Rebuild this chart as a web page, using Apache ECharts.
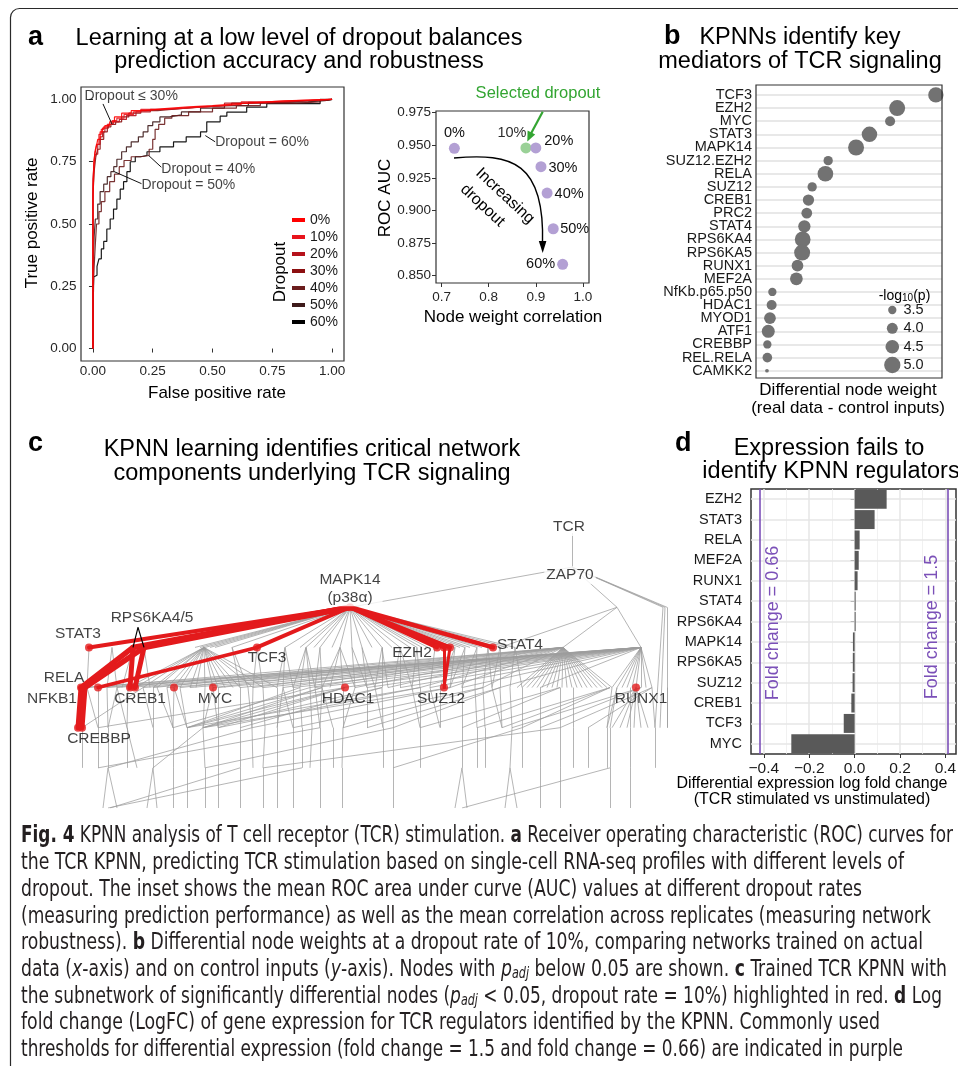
<!DOCTYPE html>
<html><head><meta charset="utf-8">
<script src="https://cdn.jsdelivr.net/npm/echarts@6.0.0/dist/echarts.min.js"></script>
<style>html,body{margin:0;padding:0;background:#fff}#c{width:958px;height:1066px}</style>
</head><body><div id="c"></div>
<script>
// ================= DATA =================
// Panel a: ROC curves (false positive rate, true positive rate)
const ROC_LEVELS = ['0%','10%','20%','30%','40%','50%','60%'];
const ROC_0  = [[0,0],[0,0.45],[0.003,0.6],[0.005,0.7],[0.008,0.76],[0.012,0.78],[0.02,0.8],[0.03,0.84],[0.04,0.87],[0.05,0.885],[0.07,0.895],[0.09,0.91],[0.12,0.93],[0.16,0.945],[0.22,0.955],[0.3,0.963],[0.4,0.97],[0.5,0.975],[0.6,0.982],[0.7,0.988],[0.8,0.994],[0.9,0.997],[1,1]];
const ROC_10 = [[0,0],[0,0.5],[0.004,0.66],[0.008,0.74],[0.015,0.79],[0.025,0.82],[0.035,0.86],[0.045,0.88],[0.06,0.89],[0.08,0.9],[0.1,0.915],[0.13,0.925],[0.17,0.94],[0.2,0.95],[0.28,0.96],[0.38,0.965],[0.5,0.972],[0.62,0.98],[0.72,0.99],[0.85,0.995],[1,1]];
const ROC_20 = [[0,0],[0,0.55],[0.005,0.68],[0.01,0.75],[0.02,0.78],[0.03,0.82],[0.04,0.85],[0.05,0.87],[0.065,0.885],[0.085,0.9],[0.11,0.91],[0.14,0.92],[0.18,0.935],[0.24,0.95],[0.32,0.96],[0.42,0.967],[0.55,0.975],[0.66,0.985],[0.8,0.99],[0.9,0.995],[1,1]];
const ROC_30 = [[0,0],[0,0.4],[0.006,0.62],[0.012,0.72],[0.02,0.77],[0.03,0.8],[0.045,0.84],[0.06,0.87],[0.075,0.89],[0.095,0.9],[0.12,0.91],[0.15,0.93],[0.2,0.945],[0.27,0.955],[0.35,0.962],[0.45,0.97],[0.58,0.976],[0.7,0.985],[0.82,0.99],[0.93,0.996],[1,1]];
const ROC_40 = [[0,0],[0.005,0.2],[0.01,0.33],[0.015,0.42],[0.025,0.5],[0.035,0.55],[0.05,0.59],[0.07,0.63],[0.09,0.67],[0.11,0.7],[0.13,0.73],[0.16,0.755],[0.2,0.77],[0.235,0.775],[0.25,0.8],[0.26,0.84],[0.275,0.88],[0.3,0.9],[0.33,0.925],[0.4,0.935],[0.5,0.95],[0.6,0.965],[0.7,0.975],[0.85,0.985],[0.95,0.99],[1,1]];
const ROC_50 = [[0,0],[0.005,0.3],[0.01,0.45],[0.02,0.52],[0.03,0.58],[0.045,0.63],[0.06,0.66],[0.075,0.69],[0.087,0.71],[0.1,0.73],[0.12,0.76],[0.14,0.79],[0.16,0.81],[0.19,0.83],[0.21,0.85],[0.23,0.87],[0.25,0.895],[0.28,0.91],[0.32,0.93],[0.37,0.938],[0.45,0.95],[0.55,0.965],[0.65,0.975],[0.78,0.988],[0.9,0.99],[0.97,0.995],[1,1]];
const ROC_60 = [[0,0],[0.003,0.1],[0.005,0.287],[0.017,0.294],[0.025,0.33],[0.035,0.36],[0.045,0.4],[0.058,0.43],[0.072,0.48],[0.086,0.52],[0.1,0.56],[0.114,0.6],[0.128,0.64],[0.142,0.67],[0.156,0.71],[0.177,0.75],[0.198,0.77],[0.226,0.775],[0.28,0.79],[0.337,0.81],[0.39,0.83],[0.45,0.85],[0.476,0.87],[0.532,0.91],[0.56,0.933],[0.643,0.949],[0.727,0.969],[0.783,0.983],[0.95,0.983],[0.978,0.996],[1,1]];
const ROC_CURVES = [ROC_0, ROC_10, ROC_20, ROC_30, ROC_40, ROC_50, ROC_60];
const ROC_TICKS = [0, 0.25, 0.5, 0.75, 1];
const ROC_NOTES = ['Dropout \u2264 30%', 'Dropout = 60%', 'Dropout = 40%', 'Dropout = 50%'];
const ROC_NOTE_AT = [[0.16, 1.015], [0.511, 0.83], [0.286, 0.722], [0.203, 0.655]];
const ROC_NOTE_FROM = [[0.042, 0.982], [0.511, 0.83], [0.286, 0.728], [0.203, 0.662]];
const ROC_NOTE_TIP = [[0.08, 0.9], [0.47, 0.855], [0.233, 0.775], [0.087, 0.711]];

// Panel a inset
const INSET_RATES = ['0%','10%','20%','30%','40%','50%','60%'];
const INSET_CORR = [0.727, 0.879, 0.900, 0.911, 0.924, 0.937, 0.957];
const INSET_AUC = [0.9477, 0.948, 0.948, 0.9336, 0.9134, 0.886, 0.8587];
const INSET_SELECTED = '10%';
const INSET_XTICKS = [0.7, 0.8, 0.9, 1.0];
const INSET_YTICKS = [0.85, 0.875, 0.9, 0.925, 0.95, 0.975];

// Panel b
const B_NODES = ['TCF3','EZH2','MYC','STAT3','MAPK14','SUZ12.EZH2','RELA','SUZ12','CREB1','PRC2','STAT4','RPS6KA4','RPS6KA5','RUNX1','MEF2A','NfKb.p65.p50','HDAC1','MYOD1','ATF1','CREBBP','REL.RELA','CAMKK2'];
const B_WEIGHT = [0.967,0.759,0.721,0.610,0.538,0.388,0.373,0.302,0.282,0.273,0.260,0.251,0.248,0.223,0.217,0.088,0.084,0.075,0.066,0.061,0.061,0.059];
const B_LOGP = [4.81,4.94,3.82,4.85,4.94,3.69,4.89,3.69,4.06,3.95,4.25,4.89,4.94,4.14,4.33,3.5,3.82,4.14,4.38,3.5,3.76,2.64];
const B_LEGEND_P = [3.5, 4.0, 4.5, 5.0];

// Panel d
const D_GENES = ['EZH2','STAT3','RELA','MEF2A','RUNX1','STAT4','RPS6KA4','MAPK14','RPS6KA5','SUZ12','CREB1','TCF3','MYC'];
const D_LOGFC = [0.141, 0.088, 0.022, 0.018, 0.013, 0.002, 0.002, -0.0075, -0.008, -0.009, -0.0145, -0.048, -0.279];
const D_XTICKS = [-0.4, -0.2, 0, 0.2, 0.4];
const D_XMINOR = [-0.3, -0.1, 0.1, 0.3];
const D_THRESH = [-0.4155, 0.4055];
const D_THRESH_TEXT = ['Fold change = 0.66', 'Fold change = 1.5'];

// Panel c: network, nodes written "layer:position"
const NET_GREY = [
 "0.15:572>1:572",
 "1:572>2:350,617,663,665,667",
 "2:350>3:195,200,205,210,215,232,285,300,306,314,320,332,340,352,362,372,382,392,400,410,417,422,428,435,445,455,460,465,470,477,482,488,500,508,515",
 "2:617>3:500,563,641",
 "2:663>5:655", "2:665>5:660", "2:667>5:667",
 "3:89>4:87", "3:112>4:107,117", "3:133>4:122", "3:144>4:150",
 "3:204>4:128,135,143,153,157,167,174,180,190,196,205,213,218,225,233,240,253,263,277",
 "3:232>4:240,248", "3:257>4:253,263", "3:285>4:277,283,293", "3:306>4:293,300,310,315",
 "3:320>4:315,322", "3:340>4:322,330,343,355", "3:352>4:355,367", "3:362>4:367,375",
 "3:382>4:375,382,388", "3:400>4:393,400,412", "3:417>4:412,420", "3:435>4:430",
 "3:455>4:440,450", "3:465>4:450,462", "3:477>4:462,475", "3:488>4:483,492",
 "3:500>4:492,500", "3:515>4:510,522",
 "3:563>4:517,522,527,532,537,542,547,552,557,562,567,572,577,582,587,592,597,602,607,612",
 "3:641>4:612,617,622,627,632,636,641,646,652",
 "3:641>4:82,98,107,128,143,167,190,218,240,263,293,315,343,367,400,430,462,500,540",
 "3:563>4:87,117,153,180,213,253,283,310,355,388,420,450,483",
 "4:82>5:82", "4:87>5:82,98", "4:98>5:98", "4:107>5:108", "4:117>5:108,127", "4:128>5:127",
 "4:143>5:153,82", "4:153>5:153", "4:157>5:173", "4:167>5:173", "4:174>5:173,187", "4:180>5:187",
 "4:205>5:203", "4:213>5:203,218", "4:218>5:218", "4:240>5:240", "4:248>5:252", "4:253>5:252",
 "4:263>5:265", "4:277>5:277", "4:283>5:277,293", "4:293>5:293", "4:300>5:302,187", "4:310>5:312,173",
 "4:315>5:320", "4:322>5:320,333,187,203", "4:343>5:343", "4:345>5:98,187,203,218", "4:355>5:343",
 "4:367>5:367", "4:375>5:383", "4:382>5:383,203,240", "4:393>5:393", "4:412>5:420", "4:420>5:420,187,218",
 "4:430>5:440", "4:440>5:440", "4:450>5:203,252", "4:462>5:462", "4:475>5:477", "4:483>5:485,293,343",
 "4:492>5:502", "4:500>5:502,367,393", "4:510>5:512", "4:522>5:522", "4:540>5:540", "4:560>5:560,420,462",
 "4:573>5:573", "4:612>5:607", "4:617>5:607,610", "4:630>5:630", "4:636>5:612,620,627,634,641,648",
 "4:610>5:477,502,522", "4:641>5:512,540", "4:652>5:655,560,588", "4:667>5:667",
 "5:82>6:82", "5:98>6:98", "5:108>6:108", "5:127>6:127,137", "5:153>6:153", "5:173>6:173", "5:187>6:187",
 "5:203>6:205,153", "5:218>6:218", "5:240>6:240", "5:252>6:253,108", "5:265>6:263", "5:277>6:277",
 "5:293>6:293", "5:302>6:302", "5:312>6:310", "5:320>6:320,98", "5:333>6:333", "5:343>6:342",
 "5:383>6:383", "5:393>6:393,205", "5:420>6:420", "5:462>6:462", "5:477>6:477", "5:485>6:485",
 "5:512>6:510", "5:522>6:522,393", "5:540>6:540", "5:560>6:560,263", "5:573>6:573", "5:588>6:588",
 "5:607>6:607", "5:610>6:610", "5:630>6:630", "5:655>6:655",
 "6:108>7:103,117", "6:153>7:147,157", "6:173>7:173", "6:187>7:187", "6:205>7:205", "6:218>7:218",
 "6:240>7:240,110", "6:263>7:263", "6:277>7:277", "6:293>7:293", "6:302>7:108", "6:320>7:320",
 "6:342>7:342", "6:393>7:393", "6:462>7:455,467", "6:510>7:505,517", "6:540>7:540", "6:560>7:560",
 "6:610>7:610,462", "6:630>7:630"
];
const NET_RED = ["2:350>3:89","2:350>3:133","2:350>3:144","3:133>4:81","3:144>4:85","3:133>4:130","3:144>4:135",
 "2:350>3:257","3:257>4:98","4:81>5:78","4:85>5:82","2:350>3:437","2:350>3:444","2:350>3:450","2:350>3:493",
 "3:444>4:444","3:450>4:444"];
const NET_RED_NODES = ["2:350","3:89","3:257","3:437","3:444","3:450","3:493","4:81","4:98","4:130","4:135","4:174","4:213","4:345","4:444","4:636","5:78","5:82"];
const NET_POINTER = ["2.5:138>3:133,144"];
const NET_LABELS = ['TCR','ZAP70','MAPK14\n(p38\u03b1)','RPS6KA4/5','STAT3','TCF3','EZH2','STAT4','RELA','NFKB1','CREB1','MYC','HDAC1','SUZ12','RUNX1','CREBBP'];
const NET_LABEL_NODE = ["0:572","1:572","2:350","2.5:138","3:89","3:257","3:437","3:493","4:81","4:81","4:135","4:213","4:345","4:444","4:636","5:80"];

// Caption
const CAPTION = [
 "{b|Fig. 4} KPNN analysis of T cell receptor (TCR) stimulation. {b|a} Receiver operating characteristic (ROC) curves for",
 "the TCR KPNN, predicting TCR stimulation based on single-cell RNA-seq profiles with different levels of",
 "dropout. The inset shows the mean ROC area under curve (AUC) values at different dropout rates",
 "(measuring prediction performance) as well as the mean correlation across replicates (measuring network",
 "robustness). {b|b} Differential node weights at a dropout rate of 10%, comparing networks trained on actual",
 "data ({i|x}-axis) and on control inputs ({i|y}-axis). Nodes with {i|p}{s|adj} below 0.05 are shown. {b|c} Trained TCR KPNN with",
 "the subnetwork of significantly differential nodes ({i|p}{s|adj} < 0.05, dropout rate = 10%) highlighted in red. {b|d} Log",
 "fold change (LogFC) of gene expression for TCR regulators identified by the KPNN. Commonly used",
 "thresholds for differential expression (fold change = 1.5 and fold change = 0.66) are indicated in purple"
];

// ================= STYLE / LAYOUT =================
const FONT = "'Liberation Sans', Arial, Helvetica, sans-serif";
const ROC_COLORS = ['#ff0000','#e8141c','#b5121b','#8c0f10','#6b1d1d','#3d1a1a','#000000'];
const TXT = '#111';
const AX = '#333';
const PURPLE = '#7b50b8';
const CAPTION_RIGHT = [953, 904, 862, 931, 923, 947, 942, 880, 903];

const mctx = document.createElement('canvas').getContext('2d');
function hasFont(name) {
  const s = 'abcdefghijklmnopqrstuvwxyz ABCDEFGHIJ 0123456789';
  mctx.font = '20px monospace'; const a = mctx.measureText(s).width;
  mctx.font = "20px '" + name + "', monospace"; const b = mctx.measureText(s).width;
  return Math.abs(a - b) > 0.5;
}
const CAP_FONT = hasFont('Liberation Sans Narrow') ? "'Liberation Sans Narrow'"
  : (hasFont('DejaVu Sans Condensed') ? "'DejaVu Sans Condensed'" : "'Open Sans', 'Noto Sans', sans-serif");

function bSize(p) { return Math.max(2, 8.3 + 5.33 * (p - 3.5)); }
function node(s) { const a = s.split(':').map(Number); return [a[1], a[0]]; }
function edges(list) {
  const out = [];
  list.forEach(e => {
    const parts = e.split('>');
    const to = parts[1].split(':');
    to[1].split(',').forEach(x => out.push([node(parts[0]), [Number(x), Number(to[0])]]));
  });
  return out;
}
function T(x, y, text, size, o) {
  o = o || {};
  return { type: 'text', x: x, y: y, rotation: o.rot || 0, silent: true, z: 50,
    style: { text: text, fontSize: size, fontFamily: o.font || FONT, fontWeight: o.weight || 'normal',
      fill: o.color || '#000', align: o.align || 'center', verticalAlign: 'middle', rich: o.rich } };
}

const chart = echarts.init(document.getElementById('c'), null, { renderer: 'canvas', width: 958, height: 1066 });

// ---------- series ----------
const series = [];

ROC_LEVELS.map((name, i) => ({
  type: 'line', name: name, xAxisIndex: 0, yAxisIndex: 0, data: ROC_CURVES[i], step: 'start',
  symbol: 'none', showSymbol: false, silent: true,
  lineStyle: { color: ROC_COLORS[i], width: 1.2, opacity: 0.9 }, itemStyle: { color: ROC_COLORS[i] }, z: 3
})).reverse().forEach(s => series.push(s));

series.push({
  type: 'lines', coordinateSystem: 'cartesian2d', xAxisIndex: 0, yAxisIndex: 0, silent: true, z: 6,
  data: ROC_NOTE_FROM.map((f, i) => ({ coords: [f, ROC_NOTE_TIP[i]] })),
  lineStyle: { color: '#111', width: 1, opacity: 1 }
});
series.push({
  type: 'scatter', xAxisIndex: 0, yAxisIndex: 0, symbolSize: 0, silent: true, z: 7,
  data: ROC_NOTES.map((t, i) => ({ value: ROC_NOTE_AT[i], name: t,
    label: { show: true, position: i === 0 ? 'inside' : 'right', distance: 0 } })),
  label: { formatter: p => p.name, fontSize: 14, fontFamily: FONT, color: TXT }
});

const INSET_LABEL_STYLE = {
  '0%': { position: 'top', distance: 2 },
  '10%': { position: 'top', distance: 2, offset: [-14, 0] },
  '20%': { position: 'right', distance: 5, offset: [-2, -7] },
  '30%': { position: 'right', distance: 2, offset: [0, 1.5] },
  '40%': { position: 'right', distance: 2, offset: [0, 1] },
  '50%': { position: 'right', distance: 1.5 },
  '60%': { position: 'left', distance: 2 }
};
series.push({
  type: 'scatter', xAxisIndex: 1, yAxisIndex: 1, symbolSize: 11, silent: true, z: 5,
  data: INSET_RATES.map((r, i) => ({ name: r, value: [INSET_CORR[i], INSET_AUC[i]],
    itemStyle: { color: r === INSET_SELECTED ? '#8fcc8c' : '#b3a0d4', opacity: r === INSET_SELECTED ? 0.9 : 1 },
    label: Object.assign({ show: true }, INSET_LABEL_STYLE[r]), z: r === INSET_SELECTED ? 6 : 5 })),
  label: { formatter: p => p.name, fontSize: 14.5, fontFamily: FONT, color: TXT }
});

// panel b (category y axis)
series.push({
  type: 'scatter', xAxisIndex: 2, yAxisIndex: 2, data: [[0, 0]], symbolSize: 0, silent: true, z: 1,
  markLine: { z: 1, silent: true, symbol: 'none', animation: false, label: { show: false },
    lineStyle: { color: '#e8e8e8', width: 2, type: 'solid' },
    data: B_NODES.map((n, i) => ({ yAxis: i })) }
});
series.push({
  type: 'scatter', xAxisIndex: 2, yAxisIndex: 2, silent: true, z: 4,
  data: B_NODES.map((n, i) => [B_WEIGHT[i], i, B_LOGP[i]]),
  symbolSize: v => bSize(v[2]),
  itemStyle: { color: '#727272', opacity: 1 }
});

// panel d
series.push({
  type: 'scatter', xAxisIndex: 3, yAxisIndex: 3, data: [[0, 0]], symbolSize: 0, silent: true, z: 1,
  markLine: { z: 1, silent: true, symbol: 'none', animation: false, label: { show: false },
    lineStyle: { color: '#ededed', width: 0.8, type: 'solid' },
    data: D_XMINOR.map(v => ({ xAxis: v })) }
});
series.push({
  type: 'scatter', xAxisIndex: 3, yAxisIndex: 3, data: [[0, 0]], symbolSize: 0, silent: true, z: 1,
  markLine: { z: 1, silent: true, symbol: 'none', animation: false, label: { show: false },
    lineStyle: { color: '#e6e6e6', width: 1.5, type: 'solid' },
    data: D_XTICKS.map(v => ({ xAxis: v })).concat(D_GENES.map((g, i) => ({ yAxis: i }))) }
});
series.push({
  type: 'bar', xAxisIndex: 3, yAxisIndex: 3, data: D_LOGFC, barWidth: '93%', barMinHeight: 1, silent: true, z: 3,
  itemStyle: { color: '#595959' },
  markLine: { z: 4, silent: true, symbol: 'none', animation: false, label: { show: false },
    lineStyle: { color: PURPLE, width: 1.6, type: 'solid' },
    data: D_THRESH.map(v => ({ xAxis: v })) }
});

// panel c network
series.push({
  type: 'lines', coordinateSystem: 'cartesian2d', xAxisIndex: 4, yAxisIndex: 4, silent: true, z: 2,
  data: edges(NET_GREY).map(c => ({ coords: c })),
  lineStyle: { color: '#9c9c9c', width: 0.75, opacity: 1 }
});
const RED_WIDTH = [4, 5.5, 5.5, 5.5, 5.5, 5, 5, 4, 3.5, 5, 5, 4, 4, 4, 4.5, 3, 3];
series.push({
  type: 'lines', coordinateSystem: 'cartesian2d', xAxisIndex: 4, yAxisIndex: 4, silent: true, z: 4,
  data: edges(NET_RED).map((c, i) => ({ coords: c, lineStyle: { width: RED_WIDTH[i] } })),
  lineStyle: { color: '#e31a1c', width: 4, opacity: 1, cap: 'round' }
});
series.push({
  type: 'lines', coordinateSystem: 'cartesian2d', xAxisIndex: 4, yAxisIndex: 4, silent: true, z: 5,
  data: edges(NET_POINTER).map(c => ({ coords: c })),
  lineStyle: { color: '#000', width: 1.2, opacity: 1 }
});
series.push({
  type: 'scatter', xAxisIndex: 4, yAxisIndex: 4, silent: true, z: 5, symbolSize: 8,
  data: NET_RED_NODES.map(node), itemStyle: { color: '#e31a1c' }
});
const NET_LABEL_OFFSET = [[-3,0],[-2,8],[0,-19],[14,-9.5],[-11,-13.4],[10,10.6],[-25,5.6],[27,-2.4],[-17,-9.6],[-29,11.4],[5,11.4],[2,11.4],[3,11.4],[-3,11.4],[5,11.4],[19,11.3]];
const NET_LABEL_BG = { 'TCR': true, 'ZAP70': true, 'MAPK14\n(p38\u03b1)': true };
series.push({
  type: 'scatter', xAxisIndex: 4, yAxisIndex: 4, silent: true, z: 8, symbolSize: 0,
  data: NET_LABELS.map((t, i) => ({ name: t, value: node(NET_LABEL_NODE[i]),
    label: { show: true, position: 'inside', offset: NET_LABEL_OFFSET[i],
      backgroundColor: NET_LABEL_BG[t] ? '#fff' : 'transparent', padding: NET_LABEL_BG[t] ? [0, 2] : 0 } })),
  label: { formatter: p => p.name, fontSize: 15.5, fontFamily: FONT, color: TXT, lineHeight: 18 }
});

// ---------- graphic ----------
const G = [];
G.push({ type: 'rect', shape: { x: 10.5, y: 8.5, width: 1200, height: 1300, r: 9 }, style: { fill: 'none', stroke: '#2a2a2a', lineWidth: 1.2 }, silent: true, z: 0 });
// panel b frame
G.push({ type: 'rect', shape: { x: 756, y: 85, width: 186, height: 293 }, style: { fill: 'none', stroke: AX, lineWidth: 1.2 }, silent: true, z: 45 });
G.push(T(28, 38, 'a', 27, { weight: 'bold', align: 'left' }));
G.push(T(299, 39, 'Learning at a low level of dropout balances', 23.5));
G.push(T(299, 62, 'prediction accuracy and robustness', 23.5));
G.push(T(664, 37, 'b', 27, { weight: 'bold', align: 'left' }));
G.push(T(800, 38, 'KPNNs identify key', 23.5));
G.push(T(800, 62, 'mediators of TCR signaling', 23.5));
G.push(T(28, 444, 'c', 27, { weight: 'bold', align: 'left' }));
G.push(T(312, 450, 'KPNN learning identifies critical network', 23.5));
G.push(T(312, 474, 'components underlying TCR signaling', 23.5));
G.push(T(675, 444, 'd', 27, { weight: 'bold', align: 'left' }));
G.push(T(829, 449, 'Expression fails to', 23.5));
G.push(T(831, 472, 'identify KPNN regulators', 23.5));
G.push(T(32, 223, 'True positive rate', 17, { rot: Math.PI / 2 }));
G.push(T(217, 393, 'False positive rate', 17));
G.push(T(280, 272, 'Dropout', 17, { rot: Math.PI / 2 }));
G.push(T(385, 198, 'ROC AUC', 17, { rot: Math.PI / 2 }));
G.push(T(513, 317, 'Node weight correlation', 17));
G.push(T(848, 390, 'Differential node weight', 17));
G.push(T(848, 408, '(real data - control inputs)', 17));
G.push(T(812, 784, 'Differential expression log fold change', 16));
G.push(T(812, 800, '(TCR stimulated vs unstimulated)', 16));
G.push({ type: 'bezierCurve', shape: { x1: 454, y1: 158, cpx1: 512, cpy1: 153, cpx2: 545, cpy2: 162, x2: 542.5, y2: 244 }, style: { stroke: '#000', lineWidth: 1.4, fill: 'none' }, silent: true, z: 40 });
G.push({ type: 'polygon', shape: { points: [[538.8, 241], [546.4, 241], [542.7, 253]] }, style: { fill: '#000' }, silent: true, z: 40 });
G.push(T(505, 196, 'Increasing', 16, { rot: -0.75 }));
G.push(T(482.5, 205.5, 'dropout', 16, { rot: -0.75 }));
G.push(T(538, 93, 'Selected dropout', 16.5, { color: '#33a532' }));
G.push({ type: 'line', shape: { x1: 542.7, y1: 111.7, x2: 531, y2: 133.5 }, style: { stroke: '#33a532', lineWidth: 2.2 }, silent: true, z: 40 });
G.push({ type: 'polygon', shape: { points: [[535.2, 134.6], [527.6, 130.6], [527.3, 141.5]] }, style: { fill: '#33a532' }, silent: true, z: 40 });
G.push(T(904.5, 296, '-log{s|10}(p)', 14, { rich: { s: { fontSize: 10, fontFamily: FONT, verticalAlign: 'bottom', fill: '#000' } } }));
const LEG_Y = [310, 328.3, 346.7, 365];
B_LEGEND_P.forEach((p, i) => {
  G.push({ type: 'circle', shape: { cx: 892.3, cy: LEG_Y[i], r: bSize(p) / 2 }, style: { fill: '#727272' }, silent: true, z: 40 });
  G.push(T(903.5, LEG_Y[i], p.toFixed(1), 14.5, { align: 'left', color: '#1a1a1a' }));
});
G.push(T(772.7, 623, D_THRESH_TEXT[0], 18, { rot: Math.PI / 2, color: PURPLE }));
G.push(T(931.7, 627, D_THRESH_TEXT[1], 18, { rot: Math.PI / 2, color: PURPLE }));

// caption (condensed by horizontal scaling)
const CAP_SIZE = 23;
const SUB_SIZE = 15;
const CAP_STYLE = { n: ['normal','normal',CAP_SIZE], b: ['normal','bold',CAP_SIZE], i: ['italic','normal',CAP_SIZE], s: ['italic','normal',SUB_SIZE] };
function capWidth(str) {
  const re = /\{(\w)\|([^}]*)\}/g; let last = 0, m, w = 0;
  const seg = [];
  while ((m = re.exec(str))) { if (m.index > last) seg.push(['n', str.slice(last, m.index)]); seg.push([m[1], m[2]]); last = re.lastIndex; }
  if (last < str.length) seg.push(['n', str.slice(last)]);
  seg.forEach(s => { const st = CAP_STYLE[s[0]]; mctx.font = st[0] + ' ' + st[1] + ' ' + st[2] + 'px ' + CAP_FONT; w += mctx.measureText(s[1]).width; });
  return w;
}
const CAP_RICH = {
  b: { fontWeight: 'bold', fontSize: CAP_SIZE, fontFamily: CAP_FONT, fill: '#231f20' },
  i: { fontStyle: 'italic', fontSize: CAP_SIZE, fontFamily: CAP_FONT, fill: '#231f20' },
  s: { fontStyle: 'italic', fontSize: SUB_SIZE, fontFamily: CAP_FONT, fill: '#231f20', verticalAlign: 'bottom' }
};
CAPTION.forEach((line, i) => {
  const sx = (CAPTION_RIGHT[i] - 21) / capWidth(line);
  G.push({ type: 'text', x: 21, y: 836.5 + 26.7 * i, scaleX: sx, scaleY: 1, silent: true, z: 50,
    style: { text: line, rich: CAP_RICH, fontSize: CAP_SIZE, fontFamily: CAP_FONT, fill: '#231f20', align: 'left', verticalAlign: 'middle' } });
});

// ---------- axes ----------
function valAxis(grid, min, max, ticks, fmt, o) {
  o = o || {};
  return {
    gridIndex: grid, type: 'value', min: min, max: max, inverse: !!o.inverse,
    axisLine: { show: false }, splitLine: { show: false },
    axisTick: { show: o.tick !== false, customValues: ticks, length: 4, lineStyle: { color: AX, width: 1 } },
    axisLabel: { show: true, customValues: ticks, formatter: fmt, fontSize: o.fs || 13.5, fontFamily: FONT,
      color: o.lc || '#262626', margin: o.margin || 4, showMinLabel: true, showMaxLabel: true, hideOverlap: false }
  };
}
const hidden = (grid, min, max, inv) => ({ gridIndex: grid, type: 'value', min: min, max: max, inverse: !!inv, show: false, splitLine: { show: false } });
const BOX = { show: true, borderColor: AX, borderWidth: 1.2, backgroundColor: 'transparent', containLabel: false, outerBoundsMode: 'none' };

const option = {
  animation: false,
  backgroundColor: '#fff',
  textStyle: { fontFamily: FONT },
  grid: [
    Object.assign({ left: 81, top: 87, width: 263, height: 274 }, BOX),
    Object.assign({ left: 436, top: 111, width: 153, height: 172 }, BOX),
    { left: 756, top: 88.4, width: 186, height: 288.9, show: false, containLabel: false, outerBoundsMode: 'none' },
    Object.assign({ left: 751, top: 489, width: 205, height: 265 }, BOX, { borderWidth: 1.5 }),
    { left: 20, top: 527, width: 660, height: 281, show: false, containLabel: false, outerBoundsMode: 'none' }
  ],
  xAxis: [
    valAxis(0, -0.05, 1.05, ROC_TICKS, v => v.toFixed(2), { margin: 3 }),
    valAxis(1, 0.688, 1.013, INSET_XTICKS, v => v.toFixed(1), { margin: 7 }),
    hidden(2, 0, 1),
    valAxis(3, -0.4566, 0.4466, D_XTICKS, v => (v < 0 ? '\u2212' : '') + Math.abs(v).toFixed(1), { margin: 7, fs: 15.5, lc: '#1a1a1a' }),
    hidden(4, 20, 680)
  ],
  yAxis: [
    valAxis(0, -0.05, 1.05, ROC_TICKS, v => v.toFixed(2), { margin: 4.5 }),
    valAxis(1, 0.8444, 0.9763, INSET_YTICKS, v => v.toFixed(3), { margin: 5 }),
    { gridIndex: 2, type: 'category', data: B_NODES, inverse: true,
      axisLine: { show: false }, splitLine: { show: false }, axisTick: { show: false },
      axisLabel: { fontSize: 14.5, fontFamily: FONT, color: '#1a1a1a', margin: 4, interval: 0 } },
    { gridIndex: 3, type: 'category', data: D_GENES, inverse: true,
      axisLine: { show: false }, splitLine: { show: false },
      axisTick: { show: true, alignWithLabel: true, length: 4, lineStyle: { color: AX } },
      axisLabel: { fontSize: 14.5, fontFamily: FONT, color: '#1a1a1a', margin: 9, interval: 0 } },
    hidden(4, 0, 7, true)
  ],
  legend: {
    data: ROC_LEVELS, orient: 'vertical', left: 292, top: 213, itemWidth: 13, itemHeight: 4, itemGap: 3,
    icon: 'rect', selectedMode: false, padding: 0,
    textStyle: { fontSize: 14, fontFamily: FONT, color: '#1a1a1a' }
  },
  series: series,
  graphic: { elements: G }
};
chart.setOption(option);
</script></body></html>
